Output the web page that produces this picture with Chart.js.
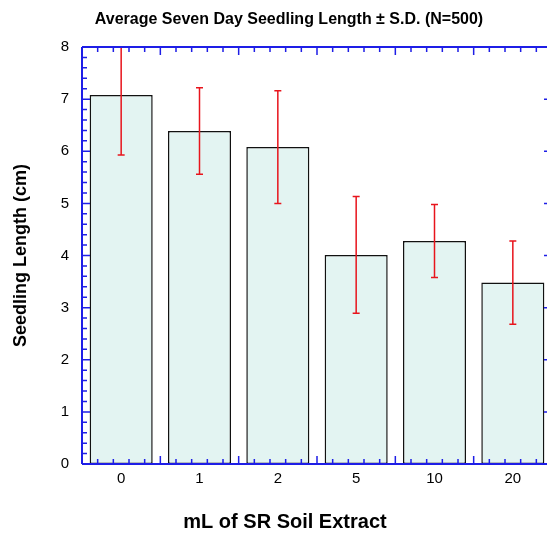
<!DOCTYPE html>
<html>
<head>
<meta charset="utf-8">
<script src="https://cdn.jsdelivr.net/npm/chart.js@4"></script>
<style>
  html, body { margin: 0; padding: 0; overflow: hidden; background: #fff; }
  #wrap { width: 560px; height: 533px; }
</style>
</head>
<body>
<div id="wrap"><canvas id="chart" width="560" height="533"></canvas></div>
<script>
// datos
const categorias = ['0', '1', '2', '5', '10', '20'];
const promedios = [7.08, 6.39, 6.08, 4.01, 4.28, 3.48];
const desviaciones = [1.15, 0.83, 1.08, 1.12, 0.70, 0.80];
const ticksY = [0, 1, 2, 3, 4, 5, 6, 7, 8];

const titulo = 'Average Seven Day Seedling Length \u00b1 S.D. (N=500)';
const tituloX = 'mL of SR Soil Extract';
const tituloY = 'Seedling Length (cm)';

const azul = 'rgb(30,30,230)';

// ejes tipo marco con ticks hacia adentro
const marcoPlugin = {
  id: 'marco',
  afterDatasetsDraw(chart) {
    const ctx = chart.ctx;
    const a = chart.chartArea;
    const x = chart.scales.x;
    const y = chart.scales.y;

    // barras de error
    ctx.save();
    ctx.beginPath();
    ctx.rect(a.left, a.top - 1, a.right - a.left, a.bottom - a.top + 1);
    ctx.clip();
    ctx.strokeStyle = '#e8141c';
    ctx.lineWidth = 1.5;
    promedios.forEach((m, i) => {
      const cx = x.getPixelForValue(i);
      const yHi = y.getPixelForValue(m + desviaciones[i]);
      const yLo = y.getPixelForValue(m - desviaciones[i]);
      ctx.beginPath();
      ctx.moveTo(cx, yHi); ctx.lineTo(cx, yLo);
      ctx.moveTo(cx - 3.5, yHi); ctx.lineTo(cx + 3.5, yHi);
      ctx.moveTo(cx - 3.5, yLo); ctx.lineTo(cx + 3.5, yLo);
      ctx.stroke();
    });
    ctx.restore();

    ctx.save();
    ctx.strokeStyle = azul;
    ctx.lineWidth = 2;
    ctx.beginPath();
    ctx.moveTo(a.left, a.top); ctx.lineTo(a.right, a.top);
    ctx.moveTo(a.left, a.bottom); ctx.lineTo(a.right, a.bottom);
    ctx.moveTo(a.left, a.top); ctx.lineTo(a.left, a.bottom);
    ctx.moveTo(a.right, a.top); ctx.lineTo(a.right, a.bottom);
    ctx.stroke();

    ctx.lineWidth = 1.5;
    ctx.beginPath();
    // ticks verticales (eje y), menores cada 0.2
    for (let k = 0; k <= 40; k++) {
      const v = k / 5;
      const py = y.getPixelForValue(v);
      const len = (k % 5 === 0) ? 8 : 5;
      ctx.moveTo(a.left, py); ctx.lineTo(a.left + len, py);
      ctx.moveTo(a.right, py); ctx.lineTo(a.right - len, py);
    }
    // ticks horizontales (eje x), en los limites de categoria
    const n = categorias.length;
    for (let k = 0; k <= n * 5; k++) {
      const v = k / 5 - 0.5;
      const px = x.getPixelForValue(v);
      const len = (k % 5 === 0) ? 8 : 5;
      ctx.moveTo(px, a.bottom); ctx.lineTo(px, a.bottom - len);
      ctx.moveTo(px, a.top); ctx.lineTo(px, a.top + len);
    }
    ctx.stroke();
    ctx.restore();

    // textos
    ctx.save();
    ctx.fillStyle = '#000';
    ctx.textAlign = 'center';
    ctx.textBaseline = 'middle';
    ctx.font = 'bold 16px "Liberation Sans", Arial, sans-serif';
    ctx.fillText(titulo, 289, 20);
    ctx.font = 'bold 20px "Liberation Sans", Arial, sans-serif';
    ctx.fillText(tituloX, 285, 522);
    ctx.font = 'bold 18px "Liberation Sans", Arial, sans-serif';
    ctx.translate(21, (a.top + a.bottom) / 2);
    ctx.rotate(-Math.PI / 2);
    ctx.fillText(tituloY, 0, 0);
    ctx.restore();
  }
};

new Chart(document.getElementById('chart'), {
  type: 'bar',
  data: {
    labels: categorias,
    datasets: [{
      data: promedios,
      backgroundColor: '#e3f4f2',
      borderColor: '#111',
      borderWidth: 1.5,
      borderSkipped: false,
      categoryPercentage: 1,
      barPercentage: 0.805
    }]
  },
  options: {
    responsive: false,
    animation: false,
    layout: { padding: { top: 47, right: 8, bottom: 0, left: 0 } },
    plugins: { legend: { display: false }, tooltip: { enabled: false }, title: { display: false } },
    scales: {
      x: {
        offset: true,
        grid: { display: false, drawTicks: false },
        border: { display: false },
        ticks: { color: '#000', padding: 6, font: { family: '"Liberation Sans", Arial', size: 15 } },
        afterFit(s) { s.height = 69; }
      },
      y: {
        min: 0,
        max: 8,
        grid: { display: false, drawTicks: false },
        border: { display: false },
        afterBuildTicks(s) { s.ticks = ticksY.map(v => ({ value: v })); },
        ticks: { color: '#000', padding: 13, font: { family: '"Liberation Sans", Arial', size: 15 } },
        afterFit(s) { s.width = 82; }
      }
    }
  },
  plugins: [marcoPlugin]
});
</script>
</body>
</html>
